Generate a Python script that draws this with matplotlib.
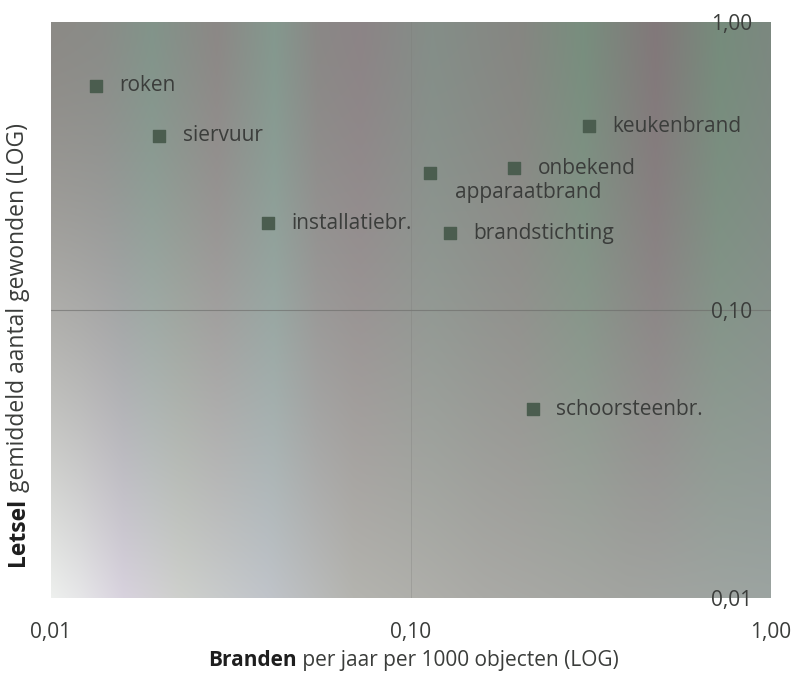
import numpy as np
import matplotlib
matplotlib.use('Agg')
import matplotlib.pyplot as plt

plt.rcParams['font.family'] = ['Open Sans', 'DejaVu Sans']

# brandoorzaken: branden per jaar per 1000 objecten vs gemiddeld aantal gewonden
oorzaken = ['roken', 'siervuur', 'installatiebr.', 'apparaatbrand', 'onbekend',
            'keukenbrand', 'brandstichting', 'schoorsteenbr.']
branden = [0.0133, 0.0200, 0.0400, 0.113, 0.193, 0.312, 0.128, 0.218]
letsel = [0.600, 0.402, 0.200, 0.299, 0.311, 0.435, 0.185, 0.0453]

xticks = [0.01, 0.1, 1.0]
xtick_labels = ['0,01', '0,10', '1,00']
yticks = [0.01, 0.1, 1.0]
ytick_labels = ['0,01', '0,10', '1,00']

# label offset in points (default: right of the marker)
label_offset = {'apparaatbrand': (18, -14)}

text_col = '#3b3d3b'
marker_col = '#4b5d4f'

fig = plt.figure(figsize=(7.95, 6.74), dpi=100)
pos = [51 / 795, 1 - 598 / 674, 720 / 795, 576 / 674]

# striped background, lighter towards the lower-left corner
top_stops = [0.00, 0.07, 0.14, 0.23, 0.31, 0.37, 0.43, 0.53, 0.65, 0.74, 0.84, 0.93, 1.00]
top_cols = [(140, 138, 134), (138, 140, 136), (130, 148, 138), (140, 136, 134),
            (132, 152, 142), (138, 136, 134), (140, 132, 134), (132, 142, 136),
            (134, 134, 130), (120, 142, 126), (130, 120, 122), (118, 140, 124),
            (124, 136, 128)]
bot_stops = [0.00, 0.04, 0.10, 0.18, 0.30, 0.42, 0.60, 0.80, 1.00]
bot_cols = [(238, 240, 238), (230, 230, 232), (216, 210, 222), (206, 208, 204),
            (192, 196, 202), (180, 180, 175), (170, 170, 166), (162, 164, 160),
            (156, 164, 161)]
W, H = 720, 576
u = np.linspace(0, 1, W)
top = np.stack([np.interp(u, top_stops, [c[i] for c in top_cols]) for i in range(3)], axis=-1)
bot = np.stack([np.interp(u, bot_stops, [c[i] for c in bot_cols]) for i in range(3)], axis=-1)
t = np.linspace(0, 1, H)[:, None, None] ** 1.5
bg = (top[None] * (1 - t) + bot[None] * t) / 255.0

bg_ax = fig.add_axes(pos, zorder=0)
bg_ax.imshow(bg, aspect='auto', interpolation='bilinear')
bg_ax.axis('off')

ax = fig.add_axes(pos, zorder=1)
ax.set_facecolor('none')
ax.set_xscale('log')
ax.set_yscale('log')
ax.set_xlim(0.01, 1.0)
ax.set_ylim(0.01, 1.0)
for s in ax.spines.values():
    s.set_visible(False)

# axis crossing lines at 0,10
ax.axhline(0.1, color='#6a6a68', lw=0.8, alpha=0.6, zorder=1)
ax.axvline(0.1, color='#7a7a78', lw=0.6, alpha=0.35, zorder=1)

ax.scatter(branden, letsel, marker='s', s=80, color=marker_col, zorder=3)
for name, x, y in zip(oorzaken, branden, letsel):
    ax.annotate(name, (x, y), xytext=label_offset.get(name, (17, 0)),
                textcoords='offset points', ha='left', va='center',
                fontsize=15, color=text_col)

ax.minorticks_off()
ax.set_xticks(xticks, labels=xtick_labels)
ax.tick_params(axis='x', length=0, pad=17, labelsize=15, labelcolor=text_col)
ax.set_yticks(yticks, labels=ytick_labels, ha='right')
ax.tick_params(axis='y', which='both', left=False, right=False, labelleft=False,
               labelright=True, pad=-17, labelsize=15, labelcolor=text_col)

# axis titles with a bold first word
xt = fig.text(0.262, 0.004, 'Branden', fontsize=15, fontweight='bold',
              color='#1e1e1e', ha='left', va='bottom')
ax.annotate(' per jaar per 1000 objecten (LOG)', xy=(1, 0), xycoords=xt,
            ha='left', va='bottom', fontsize=15, color=text_col,
            annotation_clip=False)
yt = fig.text(0.008, 1 - 566 / 674, 'Letsel', fontsize=16.5, fontweight='bold',
              color='#1e1e1e', rotation=90, ha='left', va='bottom')
ax.annotate(' gemiddeld aantal gewonden (LOG)', xy=(0.5, 1), xycoords=yt,
            rotation=90, ha='center', va='bottom', fontsize=16.5, color=text_col,
            annotation_clip=False)

fig.savefig('out.png', dpi=100, facecolor='white')
